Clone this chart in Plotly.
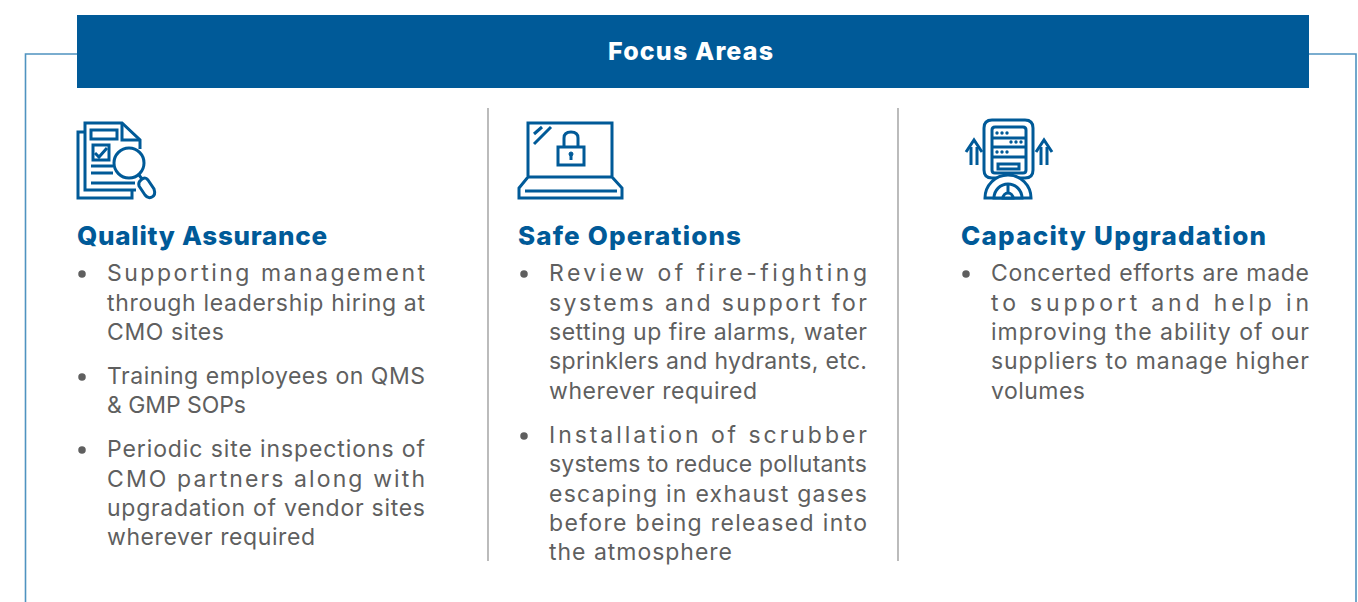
import json
import plotly.graph_objects as go

# ---- content ----
header_text = ["Focus Areas"]
header_x = [608]
header_y = [54]
header_w = [165]

title_text = ["Quality Assurance", "Safe Operations", "Capacity Upgradation"]
title_x = [77, 518, 961]
title_y = [238, 238, 238]
title_w = [250, 223, 305]

body_text = [
    "Supporting management", "through leadership hiring at", "CMO sites",
    "Training employees on QMS", "& GMP SOPs",
    "Periodic site inspections of", "CMO partners along with",
    "upgradation of vendor sites", "wherever required",
    "Review of fire-fighting", "systems and support for",
    "setting up fire alarms, water", "sprinklers and hydrants, etc.", "wherever required",
    "Installation of scrubber", "systems to reduce pollutants",
    "escaping in exhaust gases", "before being released into", "the atmosphere",
    "Concerted efforts are made", "to support and help in",
    "improving the ability of our", "suppliers to manage higher", "volumes",
]
body_x = [107] * 9 + [549] * 10 + [991] * 5
body_y = [275, 305, 334, 378, 407, 451, 481, 510, 539,
          275, 305, 334, 363, 393, 437, 466, 496, 525, 554,
          275, 305, 334, 363, 393]
body_w = [318, 318, 117, 318, 139, 318, 318, 318, 208,
          318, 318, 318, 318, 208, 318, 318, 318, 318, 183,
          318, 318, 318, 318, 94]

bullet_x = [82, 82, 82, 524, 524, 966]
bullet_y = [274, 377, 450, 274, 436, 274]

BLUE = "#005a98"
FRAME = "#4f93c0"
GREY = "#5f5f5f"
RULE = "#ababab"
ICON_W = 3


def arc(cx, cy, r):
    k = 0.5523 * r
    return (f"M{cx-r},{cy} C{cx-r},{cy-k} {cx-k},{cy-r} {cx},{cy-r} "
            f"C{cx+k},{cy-r} {cx+r},{cy-k} {cx+r},{cy} Z")


def rrect(x0, y0, x1, y1, r):
    return (f"M{x0+r},{y0} L{x1-r},{y0} Q{x1},{y0} {x1},{y0+r} L{x1},{y1-r} Q{x1},{y1} {x1-r},{y1} "
            f"L{x0+r},{y1} Q{x0},{y1} {x0},{y1-r} L{x0},{y0+r} Q{x0},{y0} {x0+r},{y0} Z")


icon_paths = [
    # document / magnifier
    "M85,132 L78,132 L78,198 L132,198 L132,190",
    "M136,190 L85,190 L85,123 L122,123 L140,140 L140,149",
    "M122,123 L122,140 L140,140",
    "M91,130 L117,130 L117,139 L91,139 Z",
    "M93,145 L109,145 L109,160 L93,160 Z",
    "M95,153 L99,157 L107,148",
    "M91,166 L113,166", "M91,173 L113,173", "M91,183 L135,183",
    "M139,175 L142,179",
    "M141,180 Q145,176 148,180 L154,189 Q156,195 152,197 Q148,199 145,195 L139,186 Q138,182 141,180 Z",
    # laptop / lock
    "M528,176 L528,123 L612,123 L612,176",
    "M528,177 L612,177 L622,188 L622,198 L519,198 L519,188 Z",
    "M525,191 L617,191",
    "M534,134 L542,127", "M534,144 L551,127",
    "M558,147 L584,147 L584,165 L558,165 Z",
    "M564,147 L564,138 Q564,132 571,132 Q578,132 578,138 L578,147",
    "M571,154 L571,160",
    # server / gauge
    rrect(984, 120, 1033, 178, 8),
    rrect(992, 127, 1026, 173, 3),
    "M992,138 L1026,138", "M992,147 L1026,147", "M992,157 L1026,157",
    "M998,164 L1019,164 L1019,169 L998,169 Z",
    "M966,152 L974,140 L982,152", "M971,147 L971,165", "M977,147 L977,165",
    "M1036,152 L1044,140 L1052,152", "M1041,147 L1041,165", "M1047,147 L1047,165",
]

dot_rows = [(997, 133), (1002, 133), (1007, 133), (1011, 142), (1016, 142), (1021, 142),
            (997, 152), (1002, 152), (1007, 152)]

shapes = []


def line_path(p, color=BLUE, width=ICON_W, fill=None):
    s = dict(type="path", path=p, line=dict(color=color, width=width), layer="above")
    if fill:
        s["fillcolor"] = fill
    shapes.append(s)


# frame and header
line_path("M77,54 L25.5,54 L25.5,602", FRAME, 1.6)
line_path("M1309,54 L1356,54 L1356,602", FRAME, 1.6)
shapes.append(dict(type="rect", x0=77, x1=1309, y0=15, y1=88, fillcolor=BLUE,
                   line=dict(width=0), layer="below"))
# column rules
for rx in (488, 898):
    shapes.append(dict(type="line", x0=rx, x1=rx, y0=108, y1=561, line=dict(color=RULE, width=1.6)))

for p in icon_paths:
    line_path(p)
# lens
shapes.append(dict(type="circle", x0=114, x1=144, y0=148, y1=178, fillcolor="white",
                   line=dict(color=BLUE, width=ICON_W), layer="above"))
# keyhole
shapes.append(dict(type="circle", x0=569, x1=573, y0=152, y1=156, fillcolor=BLUE,
                   line=dict(color=BLUE, width=1), layer="above"))
# server dots
for dx, dy in dot_rows:
    shapes.append(dict(type="circle", x0=dx - 1.7, x1=dx + 1.7, y0=dy - 1.7, y1=dy + 1.7, fillcolor=BLUE,
                       line=dict(width=0), layer="above"))
# gauge
line_path(arc(1008, 198, 23), fill="white")
line_path(arc(1008, 198, 14), fill="white")
line_path(arc(1008, 198, 5), fill="white")
line_path("M1008,193 L1008,185")

fig = go.Figure()
fig.add_trace(go.Scatter(x=bullet_x, y=bullet_y, mode="markers", hoverinfo="skip",
                         marker=dict(size=7.5, color=GREY, line=dict(width=0))))
FONT = "Inter"
fig.add_trace(go.Scatter(x=header_x, y=header_y, text=header_text, mode="text", hoverinfo="skip",
                         textposition="middle right",
                         textfont=dict(family=FONT, size=25, color="white", weight=800)))
fig.add_trace(go.Scatter(x=title_x, y=title_y, text=title_text, mode="text", hoverinfo="skip",
                         textposition="middle right",
                         textfont=dict(family=FONT, size=26, color=BLUE, weight=800)))
fig.add_trace(go.Scatter(x=body_x, y=body_y, text=body_text, mode="text", hoverinfo="skip",
                         textposition="middle right",
                         textfont=dict(family=FONT, size=23, color=GREY, weight=400)))

fig.update_layout(
    width=1358, height=602, margin=dict(l=0, r=0, t=0, b=0),
    paper_bgcolor="white", plot_bgcolor="white", showlegend=False, shapes=shapes,
    xaxis=dict(range=[0, 1358], visible=False, fixedrange=True),
    yaxis=dict(range=[602, 0], visible=False, fixedrange=True),
)

widths = header_w + title_w + body_w
post = ("document.body.style.margin='0';document.body.style.overflow='hidden';"
        "var w=" + json.dumps(widths) + ";"
        "document.querySelectorAll('.textpoint text').forEach(function(t,i){"
        "if(i<w.length){t.setAttribute('textLength',w[i]);t.setAttribute('lengthAdjust','spacing');}});")
fig.write_html("out.html", config={"displayModeBar": False}, post_script=post)
